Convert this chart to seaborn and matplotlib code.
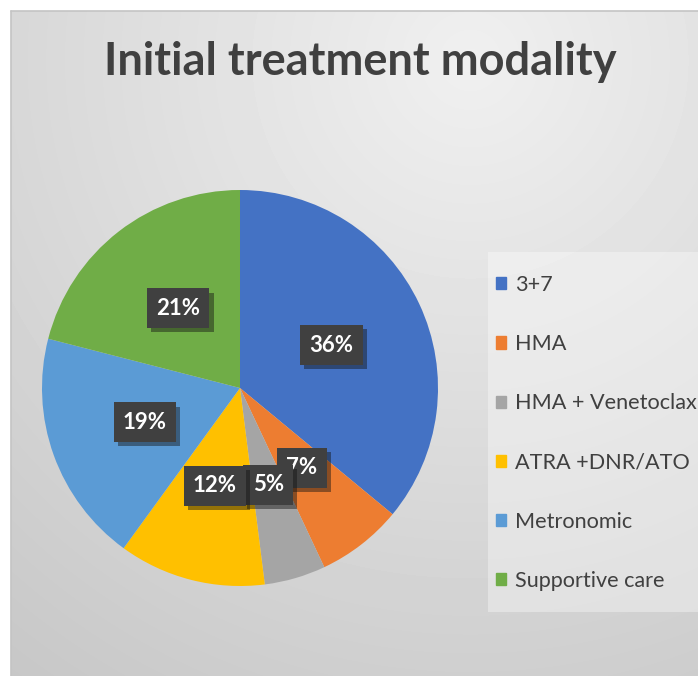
import numpy as np
import matplotlib
matplotlib.use("Agg")
import matplotlib.pyplot as plt
import matplotlib.patheffects as pe
from matplotlib.patches import Patch, Rectangle
from matplotlib.lines import Line2D
import seaborn as sns

categories = ["3+7", "HMA", "HMA + Venetoclax", "ATRA +DNR/ATO", "Metronomic", "Supportive care"]
shares = [36, 7, 5, 12, 19, 21]
colors = ["#4472C4", "#ED7D31", "#A5A5A5", "#FFC000", "#5B9BD5", "#70AD47"]
title = "Initial treatment modality"

sns.set_style("white")
plt.rcParams['font.family'] = ['Lato', 'DejaVu Sans']

W, H = 698, 676
fig = plt.figure(figsize=(W / 100, H / 100), dpi=100)

# radial grey background of the chart area
bg = fig.add_axes([11 / W, 0, (W - 11) / W, (H - 11) / H])
yy, xx = np.mgrid[11:H, 11:W]
d = np.hypot(xx - 470, yy - 60)
g = 0.94 - 0.16 * d / d.max()
bg.imshow(g, cmap="gray", vmin=0, vmax=1, aspect="auto", interpolation="bilinear")
bg.axis("off")
fig.add_artist(Line2D([11 / W, 11 / W], [0, 1 - 11 / H], transform=fig.transFigure, color="#c4c4c4", lw=1.2))
fig.add_artist(Line2D([11 / W, 1], [1 - 11 / H, 1 - 11 / H], transform=fig.transFigure, color="#c4c4c4", lw=1.2))

# pie
cx, cy, r = 240, 388, 198
ax = fig.add_axes([(cx - r) / W, 1 - (cy + r) / H, 2 * r / W, 2 * r / H])
wedges, texts, autotexts = ax.pie(
    shares, colors=colors, startangle=90, counterclock=False,
    autopct=lambda p: f"{p:.0f}%", pctdistance=0.51,
    wedgeprops=dict(linewidth=0),
    textprops=dict(color="white", fontweight="bold", fontsize=16),
)
ax.set_xlim(-1, 1)
ax.set_ylim(-1, 1)
for t in autotexts:
    t.set_bbox(dict(boxstyle="square,pad=0.42", fc="#404040", ec="none"))
    t.get_bbox_patch().set_path_effects([pe.SimplePatchShadow(offset=(3, -3), alpha=0.45), pe.Normal()])

fig.text(360 / W, 1 - 62 / H, title, ha="center", va="center",
         fontsize=32.5, fontweight="bold", color="#404040")

# legend
fig.patches.append(Rectangle((488 / W, 1 - 612 / H), (W - 488) / W, 360 / H,
                             transform=fig.transFigure, fc="white", alpha=0.35, ec="none"))
handles = [Patch(color=c) for c in colors]
fig.legend(handles, categories, loc="upper left", bbox_to_anchor=(496 / W, 1 - 275 / H),
           frameon=False, fontsize=15.6, labelspacing=1.81, handlelength=0.48, handleheight=0.48,
           handletextpad=0.4, borderaxespad=0, borderpad=0, labelcolor="#404040")

fig.savefig("out.png", dpi=100)
